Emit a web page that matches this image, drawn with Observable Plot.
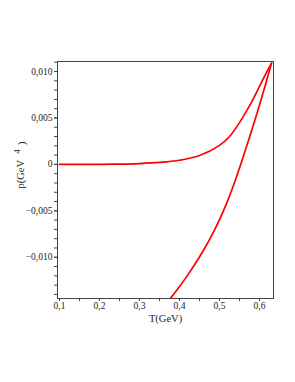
<!DOCTYPE html>
<html>
<head>
<meta charset="utf-8">
<script src="https://cdn.jsdelivr.net/npm/d3@7"></script>
<script src="https://cdn.jsdelivr.net/npm/@observablehq/plot@0.6"></script>
<style>
  html, body { margin: 0; padding: 0; background: #fff; }
  #chart svg { display: block; }
</style>
</head>
<body>
<div id="chart"></div>
<script>
// Upper curve
const upperT = [0.10, 0.15, 0.20, 0.25, 0.30, 0.35, 0.40, 0.45, 0.50, 0.525, 0.55, 0.575, 0.60, 0.615, 0.63];
const upperP = [0, 0, 0.00001, 0.00003, 0.00009, 0.00021, 0.00045, 0.00095, 0.00205, 0.0030, 0.0045, 0.0063, 0.0084, 0.0097, 0.0109];
// Lower curve
const lowerT = [0.378, 0.40, 0.42, 0.44, 0.46, 0.48, 0.50, 0.52, 0.54, 0.56, 0.58, 0.60, 0.615, 0.63];
const lowerP = [-0.0144, -0.01315, -0.01195, -0.01065, -0.00925, -0.0077, -0.00595, -0.00395, -0.00165, 0.0009, 0.0036, 0.0064, 0.0086, 0.0109];

const xMajor = [0.1, 0.2, 0.3, 0.4, 0.5, 0.6];
const xMinor = [0.1, 0.15, 0.2, 0.25, 0.3, 0.35, 0.4, 0.45, 0.5, 0.55, 0.6];
const yMajor = [-0.010, -0.005, 0, 0.005, 0.010];
const yMinor = [-0.014, -0.013, -0.012, -0.011, -0.010, -0.009, -0.008, -0.007, -0.006, -0.005, -0.004, -0.003, -0.002, -0.001, 0, 0.001, 0.002, 0.003, 0.004, 0.005, 0.006, 0.007, 0.008, 0.009, 0.010, 0.011];

const xLabel = "T(GeV)";
const yLabel = "p(GeV";

const upper = upperT.map((t, i) => ({T: t, p: upperP[i]}));
const lower = lowerT.map((t, i) => ({T: t, p: lowerP[i]}));

const fmtY = d => d === 0 ? "0" : d3.format(".3f")(d).replace(".", ",");
const fmtX = d => d3.format(".1f")(d).replace(".", ",");

const chart = Plot.plot({
  width: 295,
  height: 382,
  marginLeft: 57,
  marginRight: 22,
  marginTop: 61,
  marginBottom: 84,
  style: {fontFamily: "'Liberation Serif', 'Times New Roman', serif", fontSize: "9.5px", color: "#222", background: "#fff"},
  x: {domain: [0.095, 0.635]},
  y: {domain: [-0.01444, 0.01108]},
  marks: [
    Plot.axisX(xMinor, {tickSize: 3, text: null, label: null, stroke: "#444"}),
    Plot.axisX(xMajor, {tickSize: 3, tickPadding: 1, tickFormat: fmtX, label: null, stroke: "#444", fontSize: 9.5}),
    Plot.axisY(yMinor, {tickSize: 3, text: null, label: null, stroke: "#444"}),
    Plot.axisY(yMajor, {tickSize: 3, tickPadding: 2, tickFormat: fmtY, label: null, stroke: "#444", fontSize: 9.5}),
    Plot.frame({stroke: "#444", strokeWidth: 1}),
    Plot.line(upper, {x: "T", y: "p", stroke: "red", strokeWidth: 1.7, curve: "catmull-rom", clip: true}),
    Plot.line(lower, {x: "T", y: "p", stroke: "red", strokeWidth: 1.7, curve: "catmull-rom", clip: true}),
    Plot.text([xLabel], {frameAnchor: "bottom", textAnchor: "middle", lineAnchor: "middle", dy: 20, fontSize: 10.5, fill: "#222", text: d => d}),
    Plot.text([yLabel], {frameAnchor: "left", textAnchor: "middle", lineAnchor: "middle", dx: -37, dy: -15, rotate: -90, fontSize: 10.5, fill: "#222", text: d => d})
  ]
});

document.getElementById("chart").appendChild(chart);

// add superscript part to y label
d3.select(chart).selectAll("text").filter(function() { return this.textContent === yLabel; }).each(function() {
  const t = d3.select(this);
  t.text(null);
  t.append("tspan").text(yLabel + "\u2009\u2009\u2009");
  t.append("tspan").attr("dy", "-0.45em").attr("font-size", "9").text("4");
  t.append("tspan").attr("dy", "0.45em").text("\u2009\u2009)");
});
</script>
</body>
</html>
